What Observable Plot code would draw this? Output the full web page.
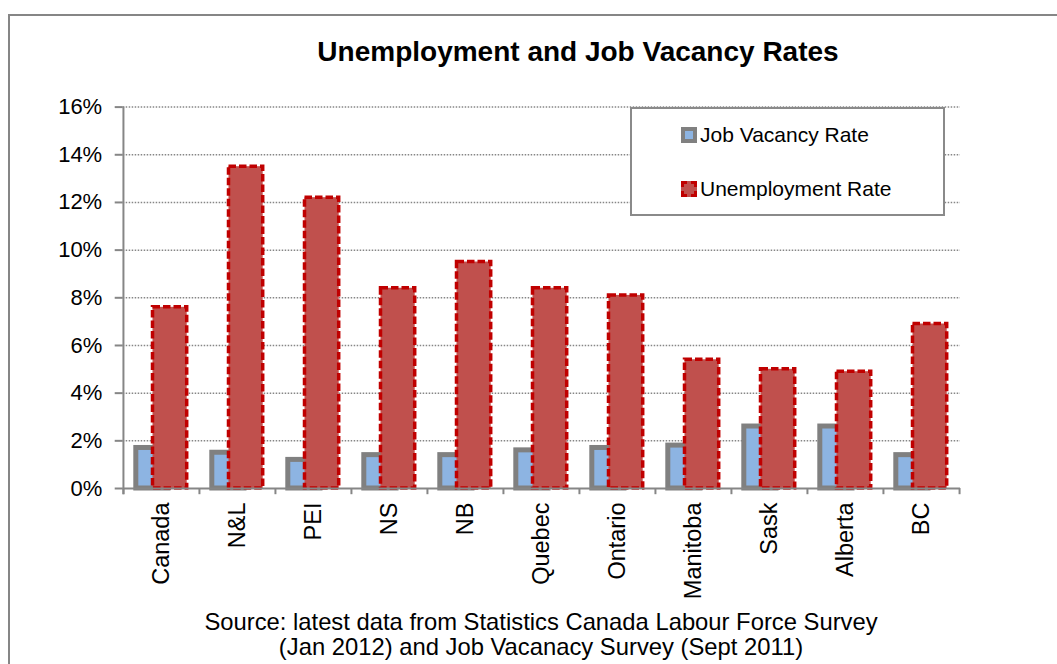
<!DOCTYPE html>
<html><head><meta charset="utf-8">
<script src="https://cdn.jsdelivr.net/npm/d3@7"></script>
<script src="https://cdn.jsdelivr.net/npm/@observablehq/plot@0.6"></script>
<style>
html,body{margin:0;padding:0;overflow:hidden;background:#fff;}
body{font-family:"Liberation Sans",Arial,sans-serif;color:#000;}
#wrap{position:relative;width:1057px;height:664px;overflow:hidden;}
#frame{position:absolute;left:8px;top:14px;width:1100px;height:700px;border:2px solid #868686;box-sizing:border-box;}
#chart{position:absolute;left:0;top:0;}
#title{position:absolute;left:0;width:1156px;top:36px;text-align:center;font-weight:bold;font-size:28px;line-height:32px;}
#caption{position:absolute;left:0;width:1082px;top:609px;text-align:center;font-size:23.8px;line-height:25px;}
#legend{position:absolute;left:630px;top:107px;width:315px;height:109px;border:2px solid #8a8a8a;background:#fff;box-sizing:border-box;}
.li{position:absolute;left:700px;font-size:21px;line-height:24px;white-space:nowrap;}
.sw{position:absolute;left:681px;width:16px;height:16px;box-sizing:border-box;}
</style></head>
<body>
<div id="wrap">
  <div id="frame"></div>
  <div id="chart"></div>
  <div id="title"></div>
  <div id="legend"></div>
  <div class="sw" id="sw1" style="top:127px;border:4px solid #808080;background:#8DB4E2;"></div>
  <div class="li" id="lt1" style="top:123px;"></div>
  <div class="sw" id="sw2" style="top:181px;border:3px dashed #C00000;background:#C0504D;"></div>
  <div class="li" id="lt2" style="top:177px;"></div>
  <div id="caption"></div>
</div>
<script>
const titleText = "Unemployment and Job Vacancy Rates";
const captionLines = ["Source: latest data from Statistics Canada Labour Force Survey", "(Jan 2012) and Job Vacanacy Survey (Sept 2011)"];
const provinces = ["Canada","N&L","PEI","NS","NB","Quebec","Ontario","Manitoba","Sask","Alberta","BC"];
const jobVacancyRate = [1.7,1.5,1.2,1.4,1.4,1.6,1.7,1.8,2.6,2.6,1.4];
const unemploymentRate = [7.6,13.5,12.2,8.4,9.5,8.4,8.1,5.4,5.0,4.9,6.9];
const seriesNames = ["Job Vacancy Rate","Unemployment Rate"];
const yTicks = [0,2,4,6,8,10,12,14,16];
const gridTicks = [2,4,6,8,10,12,14,16];

document.getElementById("title").textContent = titleText;
document.getElementById("caption").innerHTML = captionLines.map(s => s.replace(/&/g,"&amp;")).join("<br>");
document.getElementById("lt1").textContent = seriesNames[0];
document.getElementById("lt2").textContent = seriesNames[1];

const W = 1057, H = 664;
const mL = 122.7, mR = 97, mT = 106.6, mB = 176;
const bw = (W - mL - mR) / provinces.length;
const grey = "#868686";

const chart = Plot.plot({
  width: W, height: H,
  marginLeft: mL, marginRight: mR, marginTop: mT, marginBottom: mB,
  style: {fontFamily: "'Liberation Sans', Arial, sans-serif", background: "transparent", overflow: "visible"},
  x: {type: "band", domain: provinces, padding: 0},
  y: {domain: [0, 16]},
  marks: [
    Plot.ruleY(gridTicks, {stroke: grey, strokeWidth: 1.5, strokeDasharray: "1.5,1.5"}),
    Plot.barY(provinces, {x: d => d, y: (d, i) => jobVacancyRate[i], fill: "#8DB4E2", stroke: "#808080", strokeWidth: 5, insetLeft: 12.8, insetRight: 31}),
    Plot.barY(provinces, {x: d => d, y: (d, i) => unemploymentRate[i], fill: "#C0504D", stroke: "#C00000", strokeWidth: 3.5, strokeDasharray: "7.5,3", insetLeft: 29.5, insetRight: 12.3}),
    Plot.ruleY([0], {stroke: grey, strokeWidth: 2}),
    Plot.ruleX(provinces, {x: d => d, dx: -bw / 2, y1: 0, y2: -0.26, stroke: grey, strokeWidth: 2}),
    Plot.ruleX([provinces[provinces.length - 1]], {x: d => d, dx: bw / 2, y1: 0, y2: -0.26, stroke: grey, strokeWidth: 2}),
    Plot.ruleX([provinces[0]], {x: d => d, dx: -bw / 2, y1: -0.26, y2: 16, stroke: grey, strokeWidth: 2}),
    Plot.axisY({ticks: yTicks, tickFormat: d => d + "%", tickSize: 8, tickPadding: 13, fontSize: 22, stroke: grey, strokeWidth: 2, fill: "#000", label: null}),
    Plot.axisX({tickSize: 0, tickRotate: -90, tickPadding: 14, fontSize: 23.5, fill: "#000", label: null})
  ]
});
document.getElementById("chart").appendChild(chart);
</script>
</body></html>
